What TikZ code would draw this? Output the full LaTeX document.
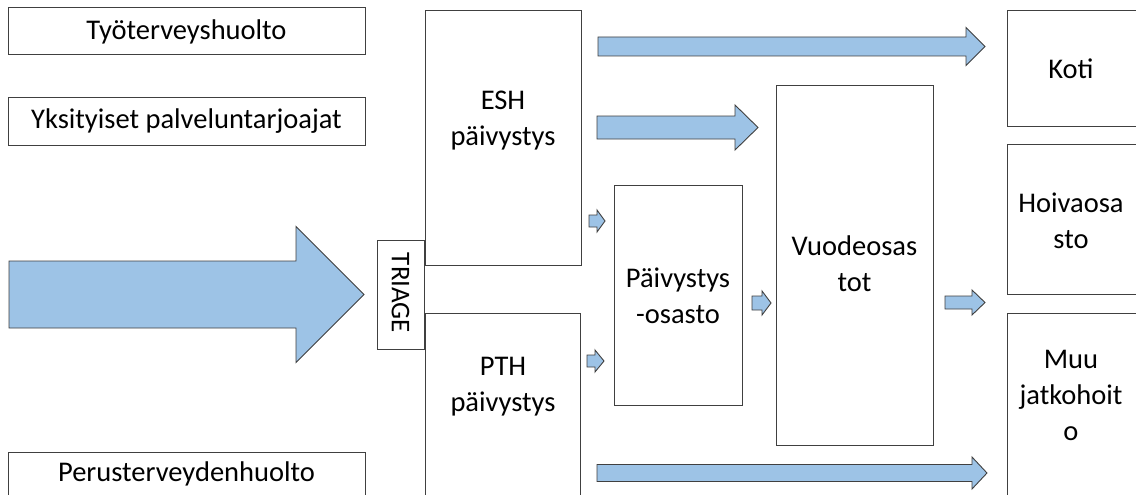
\documentclass[tikz,border=0pt]{standalone}
\usepackage{fontspec}
\setmainfont{Carlito}
\definecolor{arrowblue}{RGB}{157,195,230}
\definecolor{edgegray}{RGB}{64,64,64}
\tikzset{
  box/.style={draw=edgegray, line width=1pt, fill=white, inner sep=0pt, outer sep=0pt},
  txt/.style={font=\fontsize{28.5}{36}\selectfont, align=center, inner sep=0pt, text=black},
  barrow/.style={draw=edgegray, line width=0.9pt, fill=arrowblue, line join=miter},
}
\newcommand\mkbox[5]{\node[box, minimum width={#4-#2}, minimum height={#5-#3}] (#1) at ({(#2+#4)/2},{(#3+#5)/2}) {};}
% xstart, xheadstart, xtip, ycentre, shaft half, head half
\newcommand\blockarrow[6]{\draw[barrow] (#1,#4-#5) -- (#2,#4-#5) -- (#2,#4-#6) -- (#3,#4) -- (#2,#4+#6) -- (#2,#4+#5) -- (#1,#4+#5) -- cycle;}
\begin{document}
\begin{tikzpicture}[x=1pt,y=-1pt]
\clip (0,0) rectangle (1136,495);
\fill[white] (0,0) rectangle (1136,495);
% boxes
\mkbox{tyo}{8}{8}{365}{55}
\mkbox{yks}{8}{98}{365}{145}
\mkbox{per}{8}{452}{365}{510}
\mkbox{triage}{377}{240}{424}{349}
\mkbox{esh}{425}{11}{581}{265}
\mkbox{pth}{425}{313}{580}{510}
\mkbox{paiv}{614}{185}{742}{405}
\mkbox{vuode}{776}{86}{933}{445}
\mkbox{koti}{1007}{11}{1145}{126}
\mkbox{hoiva}{1007}{144}{1145}{294}
\mkbox{muu}{1007}{313}{1145}{510}
% texts
\node[txt] (tyoT) at (186.5,31.5) {Työterveyshuolto};
\node[txt] (yksT) at (186.5,121.5) {Yksityiset palveluntarjoajat};
\node[txt] (perT) at (186.5,474) {Perusterveydenhuolto};
\node[txt, font=\fontsize{27}{32}\selectfont, rotate=-90] (triageT) at (400.5,293) {TRIAGE};
\node[txt] (eshT) at (503,121) {ESH\\päivystys};
\node[txt] (pthT) at (503,387) {PTH\\päivystys};
\node[txt] (paivT) at (678,296) {Päivystys\\-osasto};
\node[txt] (vuodeT) at (854.5,264) {Vuodeosas\\tot};
\node[txt] (kotiT) at (1071,69) {Koti};
\node[txt] (hoivaT) at (1071,221) {Hoivaosa\\sto};
\node[txt] (muuT) at (1071,395) {Muu\\jatkohoit\\o};
% block arrows
\blockarrow{9}{296}{364}{294.5}{33.5}{68}
\blockarrow{598}{966}{985}{46.5}{9.5}{19}
\blockarrow{597}{735}{758}{127.5}{11.5}{22.5}
\blockarrow{589}{597}{605}{221}{6}{11}
\blockarrow{587}{595}{604}{361}{6}{11}
\blockarrow{752}{762}{771}{303}{7}{12}
\blockarrow{945}{972}{985}{302.5}{6.5}{12.5}
\blockarrow{597}{972}{987}{473}{8.5}{16}
\end{tikzpicture}
\end{document}
